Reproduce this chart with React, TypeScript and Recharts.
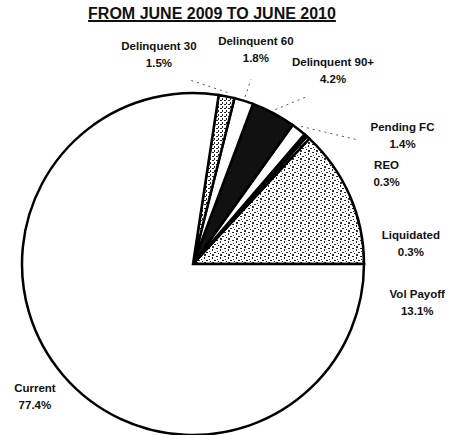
import { PieChart, Pie, Cell } from 'recharts';

const categories = [
  'Vol Payoff',
  'Liquidated',
  'REO',
  'Pending FC',
  'Delinquent 90+',
  'Delinquent 60',
  'Delinquent 30',
  'Current',
];
const shares = [13.1, 0.3, 0.3, 1.4, 4.2, 1.8, 1.5, 77.4];
const shareLabels = ['13.1%', '0.3%', '0.3%', '1.4%', '4.2%', '1.8%', '1.5%', '77.4%'];

const data = categories.map((name, i) => ({ name, value: shares[i] }));

// slice fills, same order as categories
const fills = ['url(#stipple)', 'url(#stipple)', '#111', '#fff', '#111', '#fff', 'url(#dense)', '#fff'];

// where each label sits: angle in degrees and distance as a multiple of the radius
const labelAngle = [-9.6, 5.5, 25.1, 31.7, 54.2, 73.7, 99.2, 219.9];
const labelDist = [1.33, 1.28, 1.25, 1.44, 1.4, 1.31, 1.245, 1.205];
const hasLeader = [false, false, false, true, true, true, true, false];

const RAD = Math.PI / 180;
const font = '"Liberation Sans", Arial, sans-serif';

function renderLabel(props: any) {
  const { cx, cy, outerRadius, index, midAngle } = props;
  const a = labelAngle[index] * RAD;
  const r = outerRadius * labelDist[index];
  const x = cx + r * Math.cos(a);
  const y = cy - r * Math.sin(a);

  let leader = null;
  if (hasLeader[index]) {
    const m = midAngle * RAD;
    const sx = cx + (outerRadius + 4) * Math.cos(m);
    const sy = cy - (outerRadius + 4) * Math.sin(m);
    const ex = sx + (x - sx) * 0.55;
    const ey = sy + (y + 16 - sy) * 0.55;
    leader = <line x1={sx} y1={sy} x2={ex} y2={ey} stroke="#555" strokeWidth={1} strokeDasharray="2 4" />;
  }

  return (
    <g>
      {leader}
      <text x={x} y={y - 4} textAnchor="middle" fontSize={11.5} fontWeight="bold" fontFamily={font} fill="#111">
        {categories[index]}
      </text>
      <text x={x} y={y + 13} textAnchor="middle" fontSize={11.5} fontWeight="bold" fontFamily={font} fill="#111">
        {shareLabels[index]}
      </text>
    </g>
  );
}

export default function App() {
  return (
    <div style={{ position: 'absolute', left: 0, top: 0, width: 462, height: 435, background: '#fff' }}>
      <div
        style={{
          position: 'absolute',
          left: 0,
          top: 5,
          width: 424,
          textAlign: 'center',
          fontFamily: font,
          fontWeight: 'bold',
          fontSize: 16,
          textDecoration: 'underline',
          textDecorationThickness: 2,
          color: '#111',
        }}
      >
        FROM JUNE 2009 TO JUNE 2010
      </div>
      <PieChart width={462} height={435} margin={{ top: 0, right: 0, bottom: 0, left: 0 }}>
        <defs>
          <pattern id="stipple" width="8" height="8" patternUnits="userSpaceOnUse">
            <rect width="8" height="8" fill="#fff" />
            <rect x="0" y="0" width="2" height="1" fill="#222" />
            <rect x="4" y="1" width="1" height="2" fill="#222" />
            <rect x="6" y="4" width="2" height="1" fill="#222" />
            <rect x="2" y="5" width="1" height="1" fill="#222" />
            <rect x="4" y="6" width="2" height="2" fill="#333" />
            <rect x="1" y="3" width="1" height="1" fill="#444" />
          </pattern>
          <pattern id="dense" width="4" height="4" patternUnits="userSpaceOnUse">
            <rect width="4" height="4" fill="#fff" />
            <rect x="0" y="0" width="2" height="1" fill="#222" />
            <rect x="2" y="2" width="1" height="2" fill="#222" />
          </pattern>
        </defs>
        <Pie
          data={data}
          dataKey="value"
          nameKey="name"
          cx={193}
          cy={264}
          outerRadius={171}
          startAngle={0}
          endAngle={360}
          stroke="#000"
          strokeWidth={2.5}
          label={renderLabel}
          labelLine={false}
          isAnimationActive={false}
        >
          {data.map((d, i) => (
            <Cell key={d.name} fill={fills[i]} />
          ))}
        </Pie>
      </PieChart>
    </div>
  );
}
